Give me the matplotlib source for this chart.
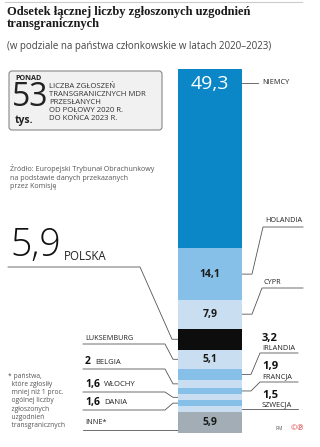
import matplotlib
matplotlib.use("Agg")
import matplotlib.pyplot as plt
from matplotlib.patches import FancyBboxPatch
import numpy as np

# ---- data ----
countries = ["NIEMCY", "HOLANDIA", "CYPR", "POLSKA", "LUKSEMBURG", "IRLANDIA",
             "BELGIA", "FRANCJA", "WŁOCHY", "DANIA", "SZWECJA", "INNE*"]
values = [49.3, 14.1, 7.9, 5.9, 5.1, 3.2, 2.0, 1.9, 1.6, 1.6, 1.5, 5.9]
value_labels = ["49,3", "14,1", "7,9", "5,9", "5,1", "3,2", "2", "1,9", "1,6", "1,6", "1,5", "5,9"]

DARK = "#0b87c7"; LIGHT = "#86c0e8"; PALE = "#c9def0"; BLACK = "#0d0d0d"; GRAY = "#a3adb5"
seg_colors = [DARK, LIGHT, PALE, BLACK, PALE, LIGHT, PALE, LIGHT, PALE, LIGHT, PALE, GRAY]

W, H = 320, 447
fig = plt.figure(figsize=(W / 100, H / 100), dpi=100)
plt.rcParams['font.family'] = ['Open Sans', 'DejaVu Sans']

ov = fig.add_axes([0, 0, 1, 1])
ov.set_xlim(0, W); ov.set_ylim(H, 0); ov.axis("off")

# bar axes
bx0, bx1, by0, by1 = 178, 242, 69, 433
ab = fig.add_axes([bx0 / W, (H - by1) / H, (bx1 - bx0) / W, (by1 - by0) / H])
ab.set_xlim(-0.5, 0.5); ab.set_ylim(100, 0); ab.axis("off")
bottoms = np.concatenate([[0], np.cumsum(values)[:-1]])
ab.bar(0, values, bottom=bottoms, width=1.0, color=seg_colors, linewidth=0)
centers = bottoms + np.array(values) / 2

def ypix(i):
    d = ab.transData.transform((0, centers[i]))
    return ov.transData.inverted().transform(d)[1]

def ytop(i):
    d = ab.transData.transform((0, bottoms[i]))
    return ov.transData.inverted().transform(d)[1]

# values inside bar
ab.text(0, bottoms[0] + 4.2, value_labels[0], color="white", fontsize=14, ha="center", va="center")
for i in [1, 2, 4, 11]:
    ab.text(0, centers[i], value_labels[i], color="#1a1a1a", fontsize=7.5, fontweight="bold",
            ha="center", va="center")

LC = "#555555"; LW = 0.6
# header
ov.plot([5, 302], [2, 2], color="#cccccc", lw=0.8)
ov.text(7, 6, "Odsetek łącznej liczby zgłoszonych uzgodnień\ntransgranicznych",
        family="Liberation Serif", fontweight="bold", fontsize=9.0, va="top", ha="left",
        linespacing=1.0, color="#1a1a1a")
ov.text(7, 47, "(w podziale na państwa członkowskie w latach 2020–2023)", fontsize=7.0,
        va="center", ha="left", color="#444444")

# info box
ov.add_patch(FancyBboxPatch((9, 71), 153, 59, boxstyle="round,pad=0,rounding_size=3",
                            facecolor="#f1f1f1", edgecolor="#888888", lw=0.8))
ov.text(15, 78, "PONAD", fontsize=5.2, fontweight="bold", va="center", ha="left", color="#222")
ov.text(12, 98, "53", fontsize=23, va="center", ha="left", color="#222")
ov.text(15, 120, "tys.", fontsize=7.5, fontweight="bold", va="center", ha="left", color="#222")
ov.text(49, 102, "LICZBA ZGŁOSZEŃ\nTRANSGRANICZNYCH MDR\nPRZESŁANYCH\nOD POŁOWY 2020 R.\nDO KOŃCA 2023 R.",
        fontsize=5.6, va="center", ha="left", color="#333", linespacing=1.2)

# source
ov.text(10, 177, "Źródło: Europejski Trybunał Obrachunkowy\nna podstawie danych przekazanych\nprzez Komisję",
        fontsize=5.1, va="center", ha="left", color="#555", linespacing=1.3)

# footnote
ov.text(8, 401, "* państwa,\n  które zgłosiły\n  mniej niż 1 proc.\n  ogólnej liczby\n  zgłoszonych\n  uzgodnień\n  transgranicznych",
        fontsize=4.9, va="center", ha="left", color="#555", linespacing=1.25)

# right labels
def right_label(i, y_line, x_a, x_b=303):
    yc = ypix(i)
    ov.plot([bx1, 252, x_a, x_b], [yc, yc, y_line, y_line], color=LC, lw=LW)

# NIEMCY
yn = 83
ov.plot([bx1, 258], [yn, yn], color=LC, lw=LW)
ov.text(262, yn, countries[0], fontsize=5.2, va="center", ha="left", color="#222")
# HOLANDIA
right_label(1, 227, 263)
ov.text(265, 221, countries[1], fontsize=5.2, va="center", ha="left", color="#222")
# CYPR
right_label(2, 288, 262)
ov.text(264, 283, countries[2], fontsize=5.2, va="center", ha="left", color="#222")
# IRLANDIA, FRANCJA
for i, yl in [(5, 353), (7, 382)]:
    yc = ypix(i)
    ov.plot([bx1, 251, 260, 298], [yc, yc, yl, yl], color=LC, lw=LW)
    ov.text(262, yl - 15, value_labels[i], fontsize=8, fontweight="bold", va="center", ha="left", color="#111")
    ov.text(262, yl - 5, countries[i], fontsize=5.3, va="center", ha="left", color="#222")
# SZWECJA
ysz = ytop(11) - 2.5
ov.plot([bx1, 298], [ysz, ysz], color=LC, lw=LW)
ov.text(262, ysz - 14, value_labels[10], fontsize=8, fontweight="bold", va="center", ha="left", color="#111")
ov.text(262, ysz - 4, countries[10], fontsize=5.3, va="center", ha="left", color="#222")

# POLSKA
yp = 267
yc = ypix(3)
ov.plot([8, 140, 172, bx0], [yp, yp, yc, yc], color=LC, lw=LW)
big = ov.text(10, 256, value_labels[3], fontsize=27, fontweight="light", va="baseline",
              ha="left", color="#111")
ov.annotate(countries[3], xy=(1, 0), xycoords=big, xytext=(2.5, 1.5), textcoords="offset points",
            fontsize=8.3, va="bottom", ha="left", color="#222")

# left small labels
left_items = [(4, 344), (6, 369), (8, 392), (9, 410)]
for i, yl in left_items:
    yc = ypix(i)
    ov.plot([83, 165, 173, bx0], [yl, yl, yc, yc], color=LC, lw=LW)
ov.text(85, 338, countries[4], fontsize=5.2, va="center", ha="left", color="#222")
for i, yl in left_items[1:]:
    t = ov.text(85, yl - 7, value_labels[i], fontsize=7.5, fontweight="bold", va="center", ha="left", color="#111")
    ov.annotate(countries[i], xy=(1, 0.5), xycoords=t, xytext=(3, 0), textcoords="offset points",
                fontsize=5.5, va="center", ha="left", color="#222")
yin = 430
ov.plot([83, bx0], [yin, yin], color=LC, lw=LW)
ov.text(85, 423, countries[11], fontsize=5.2, va="center", ha="left", color="#222")

# credit
ov.text(275, 428, "RM", fontsize=3.5, va="center", ha="left", color="#555")
ov.text(291, 428, "©℗", fontsize=5.5, va="center", ha="left", color="#d33")

fig.savefig("out.png", dpi=100)
